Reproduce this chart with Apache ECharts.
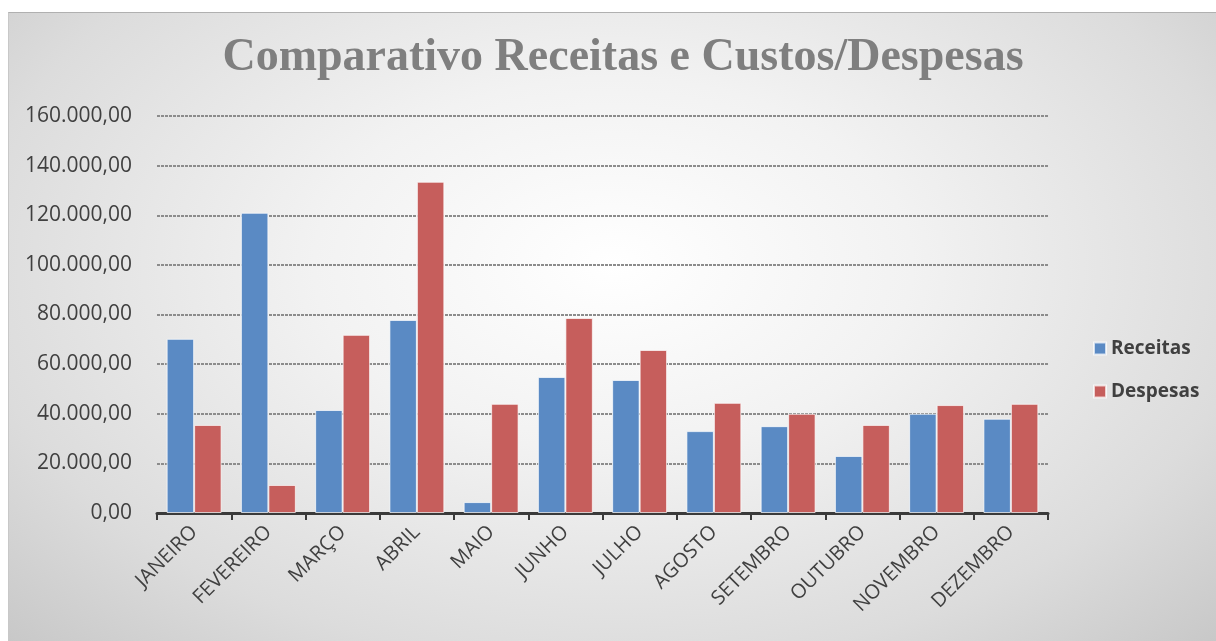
<!DOCTYPE html>
<html>
<head>
<meta charset="utf-8">
<script src="https://cdn.jsdelivr.net/npm/echarts@6/dist/echarts.min.js"></script>
<style>
  html, body { margin: 0; padding: 0; background: #fff; }
  #frame {
    position: absolute; left: 8px; top: 12px; width: 1208px; height: 629px;
    border-top: 1px solid #b0b0b0; border-left: 1px solid #c8c8c8;
    background: radial-gradient(ellipse at 50% 40%, #ffffff 0%, #f2f2f2 35%, #dcdcdc 75%, #c8c8c8 100%);
  }
  #chart { position: absolute; left: 0; top: 0; width: 1216px; height: 641px; }
</style>
</head>
<body>
<div id="frame"></div>
<div id="chart"></div>
<script>
const months = ["JANEIRO", "FEVEREIRO", "MARÇO", "ABRIL", "MAIO", "JUNHO",
    "JULHO", "AGOSTO", "SETEMBRO", "OUTUBRO", "NOVEMBRO", "DEZEMBRO"];
const receitas = [70200, 121000, 41500, 77800, 4400, 54800, 53600, 33000, 35000, 23000, 40000, 38000];
const despesas = [35500, 11300, 71800, 133500, 44000, 78600, 65700, 44400, 40000, 35500, 43500, 44000];

const chart = echarts.init(document.getElementById("chart"));

// 160000 -> "160.000,00"
function fmtBR(v) {
    return v.toLocaleString("de-DE", { minimumFractionDigits: 2, maximumFractionDigits: 2 });
}

const barBorder = { borderColor: "rgba(255,255,255,0.7)", borderWidth: 1 };

chart.setOption({
    backgroundColor: "transparent",
    title: {
        text: "Comparativo Receitas e Custos/Despesas",
        left: 618,
        textAlign: "center",
        top: 30,
        textStyle: {
            fontFamily: "Liberation Serif",
            fontWeight: "bold",
            fontSize: 46,
            color: "#7f7f7f",
        },
    },
    legend: {
        orient: "vertical",
        left: 1088,
        top: 334,
        itemWidth: 12,
        itemHeight: 12,
        itemGap: 24,
        icon: "rect",
        textStyle: {
            fontFamily: "Open Sans",
            fontWeight: "bold",
            fontSize: 19,
            color: "#404040",
        },
        data: ["Receitas", "Despesas"],
    },
    grid: { left: 157, right: 168, top: 116, bottom: 128 },
    xAxis: {
        type: "category",
        data: months,
        axisLine: { lineStyle: { color: "#3a3a3a", width: 3 } },
        axisTick: { show: true, length: 7, lineStyle: { color: "#3a3a3a", width: 2 } },
        axisLabel: {
            interval: 0,
            rotate: 45,
            margin: 16,
            fontFamily: "Open Sans",
            fontSize: 20,
            color: "#404040",
        },
    },
    yAxis: {
        type: "value",
        min: 0,
        max: 160000,
        interval: 20000,
        axisLine: { show: false },
        axisTick: { show: false },
        axisLabel: {
            formatter: fmtBR,
            margin: 25,
            fontFamily: "Open Sans",
            fontSize: 21,
            color: "#404040",
        },
        splitLine: { lineStyle: { color: "#8c8c8c", width: 2, type: [3, 1] } },
    },
    series: [
        {
            name: "Receitas",
            type: "bar",
            data: receitas,
            barGap: "0%",
            barCategoryGap: "26%",
            itemStyle: Object.assign({ color: "#5a8ac4" }, barBorder),
        },
        {
            name: "Despesas",
            type: "bar",
            data: despesas,
            itemStyle: Object.assign({ color: "#c65e5c" }, barBorder),
        },
    ],
});
</script>
</body>
</html>
